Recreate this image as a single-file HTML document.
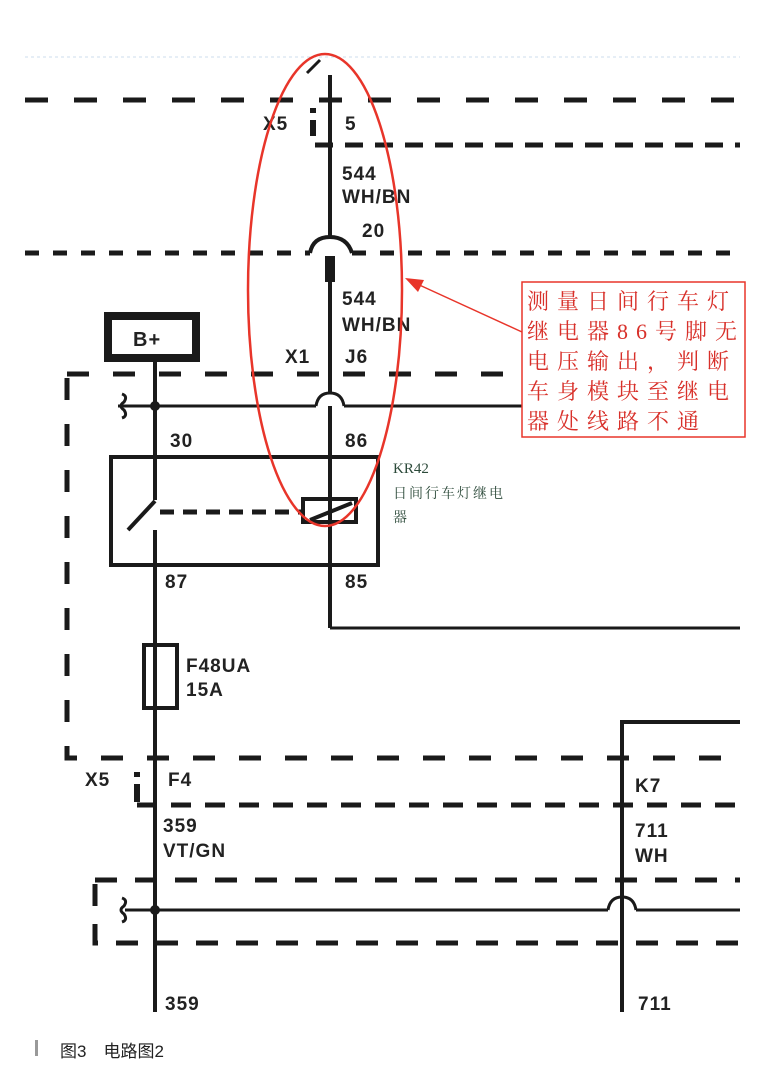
<!DOCTYPE html>
<html><head><meta charset="utf-8"><style>
html,body{margin:0;padding:0;background:#fff;}
svg{display:block}
.t{font-family:"Liberation Sans",sans-serif;font-weight:bold;font-size:19px;fill:#222;letter-spacing:1px}
</style></head><body>
<svg width="763" height="1075" viewBox="0 0 763 1075" xmlns="http://www.w3.org/2000/svg">
<rect width="763" height="1075" fill="#fff"/>
<line x1="25" y1="57" x2="740" y2="57" stroke="#cde" stroke-width="1" stroke-dasharray="3 3"/>
<g stroke="#1a1a1a" fill="none">
<line x1="25" y1="100" x2="740" y2="100" stroke-width="5" stroke-dasharray="23 26"/>
<line x1="315" y1="145" x2="740" y2="145" stroke-width="5" stroke-dasharray="18 12"/>
<line x1="313" y1="108" x2="313" y2="136" stroke-width="6" stroke-dasharray="5 7 14 0"/>
<path d="M25 253 H310" stroke-width="5" stroke-dasharray="14 14"/>
<path d="M352 253 H740" stroke-width="5" stroke-dasharray="14 14"/>
<path d="M310 253 Q313 237 330 237 Q347 237 352 253" stroke-width="4"/>
<line x1="330" y1="75" x2="330" y2="237" stroke-width="4"/>
<line x1="307" y1="73" x2="320" y2="60" stroke-width="3"/>
<rect x="325" y="256" width="10" height="26" fill="#1a1a1a" stroke="none"/>
<line x1="330" y1="282" x2="330" y2="393" stroke-width="4"/>
<path d="M316 406 Q318 393 330 393 Q342 393 344 406" stroke-width="3"/>
<line x1="330" y1="406" x2="330" y2="628" stroke-width="4"/>
<path d="M330 628 H740" stroke-width="3"/>
<rect x="108" y="316" width="88" height="42" stroke-width="8"/>
<path d="M67 374 H740" stroke-width="5" stroke-dasharray="22 24"/>
<path d="M67 378 V758 H740" stroke-width="5" stroke-dasharray="22 24"/>
<path d="M137 805 H740" stroke-width="5" stroke-dasharray="20 14"/>
<line x1="137" y1="772" x2="137" y2="802" stroke-width="6" stroke-dasharray="5 7 14 0"/>
<path d="M118 406 H316 M344 406 H740" stroke-width="3"/>
<path d="M122 394 Q128 396 124 402 Q118 406 124 410 Q128 416 122 418" stroke-width="3"/>
<line x1="155" y1="360" x2="155" y2="500" stroke-width="4"/>
<line x1="155" y1="530" x2="155" y2="1012" stroke-width="4"/>
<rect x="111" y="457" width="267" height="108" stroke-width="4"/>
<line x1="128" y1="530" x2="155" y2="501" stroke-width="4"/>
<line x1="160" y1="512" x2="302" y2="512" stroke-width="5" stroke-dasharray="14 9"/>
<rect x="303" y="499" width="53" height="23" stroke-width="4"/>
<line x1="310" y1="520" x2="352" y2="503" stroke-width="4"/>
<rect x="144" y="645" width="33" height="63" stroke-width="4"/>
<path d="M622 1012 V722 H740" stroke-width="4"/>
<path d="M95 880 H740" stroke-width="5" stroke-dasharray="22 18"/>
<path d="M95 884 V943 H740" stroke-width="5" stroke-dasharray="22 18"/>
<path d="M122 898 Q128 900 124 906 Q118 910 124 914 Q128 920 122 922" stroke-width="3"/>
<path d="M125 910 H608 M636 910 H740" stroke-width="3"/>
<path d="M608 910 Q610 897 622 897 Q634 897 636 910" stroke-width="3"/>
</g>
<circle cx="155" cy="406" r="5" fill="#1a1a1a"/>
<circle cx="155" cy="910" r="5" fill="#1a1a1a"/>
<text class="t" x="263" y="130">X5</text>
<text class="t" x="345" y="130">5</text>
<text class="t" x="342" y="180">544</text>
<text class="t" x="342" y="203">WH/BN</text>
<text class="t" x="362" y="237">20</text>
<text class="t" x="342" y="305">544</text>
<text class="t" x="342" y="331">WH/BN</text>
<text class="t" x="133" y="346" style="font-size:20px">B+</text>
<text class="t" x="285" y="363">X1</text>
<text class="t" x="345" y="363">J6</text>
<text class="t" x="170" y="447">30</text>
<text class="t" x="345" y="447">86</text>
<text class="t" x="165" y="588">87</text>
<text class="t" x="345" y="588">85</text>
<text class="t" x="186" y="672">F48UA</text>
<text class="t" x="186" y="696">15A</text>
<text class="t" x="85" y="786">X5</text>
<text class="t" x="168" y="786">F4</text>
<text class="t" x="163" y="832">359</text>
<text class="t" x="163" y="857">VT/GN</text>
<text class="t" x="635" y="792">K7</text>
<text class="t" x="635" y="837">711</text>
<text class="t" x="635" y="862">WH</text>
<text class="t" x="165" y="1010">359</text>
<text class="t" x="638" y="1010">711</text>
<text x="393" y="473" font-family="Liberation Serif,serif" font-size="15" fill="#2c4a3a">KR42</text>
<text x="393" y="498" font-family="Liberation Serif,'Noto Serif CJK SC',serif" font-size="14" fill="#2c4a3a" letter-spacing="2">日间行车灯继电</text>
<text x="393" y="522" font-family="Liberation Serif,'Noto Serif CJK SC',serif" font-size="14" fill="#2c4a3a">器</text>
<ellipse cx="325" cy="290" rx="77" ry="236" fill="none" stroke="#e8352a" stroke-width="2.5"/>
<line x1="522" y1="332" x2="415" y2="283" stroke="#e8352a" stroke-width="1.5"/>
<polygon points="405,278 424,280 418,292" fill="#e8352a"/>
<rect x="522" y="282" width="223" height="155" fill="#fff" stroke="#e8352a" stroke-width="1.5"/>
<g font-family="Liberation Serif,'Noto Serif CJK SC',serif" font-size="22" fill="#d8302a" letter-spacing="8">
<text x="527" y="309">测量日间行车灯</text>
<text x="527" y="339">继电器86号脚无</text>
<text x="527" y="369">电压输出，判断</text>
<text x="527" y="399">车身模块至继电</text>
<text x="527" y="429">器处线路不通</text>
</g>
<rect x="35" y="1040" width="3" height="16" fill="#999"/>
<text x="60" y="1057" font-family="Liberation Sans,'Noto Sans CJK SC',sans-serif" font-size="17" fill="#222">图3　电路图2</text>
</svg>
</body></html>
